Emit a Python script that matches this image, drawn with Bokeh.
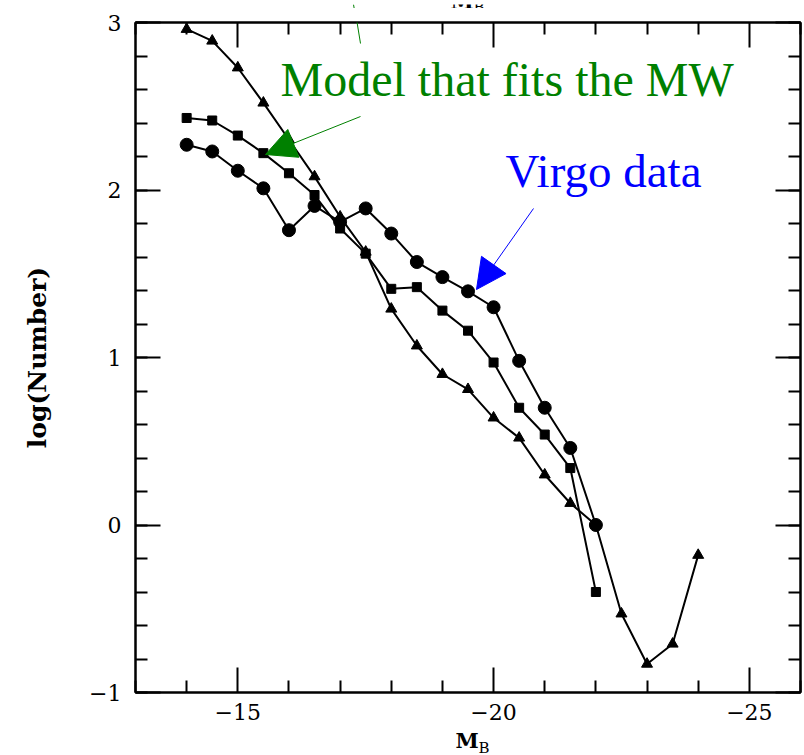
from bokeh.plotting import figure
from bokeh.layouts import column
from bokeh.models import (Range1d, LinearAxis, FixedTicker, CustomJSTickFormatter,
                          Label, Arrow, NormalHead)
from bokeh.embed import file_html
from bokeh.resources import INLINE

# ---------------- data ----------------
mb = [-14.0, -14.5, -15.0, -15.5, -16.0, -16.5, -17.0, -17.5, -18.0, -18.5,
      -19.0, -19.5, -20.0, -20.5, -21.0, -21.5, -22.0, -22.5, -23.0, -23.5, -24.0]

model_tri = [2.96, 2.89, 2.73, 2.52, 2.30, 2.08, 1.84, 1.63, 1.29, 1.07,
             0.90, 0.81, 0.64, 0.52, 0.30, 0.13, 0.00, -0.53, -0.83, -0.71, -0.18]

mb_sq = mb[:17]
model_sq = [2.43, 2.415, 2.325, 2.22, 2.10, 1.97, 1.77, 1.62, 1.41, 1.42,
            1.28, 1.16, 0.97, 0.70, 0.54, 0.34, -0.40]

mb_ci = mb[:17]
virgo = [2.27, 2.23, 2.115, 2.01, 1.76, 1.905, 1.81, 1.89, 1.74, 1.57,
         1.48, 1.395, 1.30, 0.98, 0.70, 0.46, 0.00]

x_major = [-15, -20, -25]
x_minor = [-13, -14, -16, -17, -18, -19, -21, -22, -23, -24, -26]
y_major = [-1, 0, 1, 2, 3]
y_minor = [round(-1 + 0.2 * i, 1) for i in range(21)]

# ---------------- geometry ----------------
W, H = 804, 755
FL, FR, FT, FB = 135, 800, 22, 692   # frame edges in canvas pixels
X0, X1, Y0, Y1 = -13, -26, -1, 3
TOP = 8                              # height of the top strip
BOT = 729                            # where the bottom strip starts

def dx(px):
    return X0 + (px - FL) * (X1 - X0) / (FR - FL)

def dy(py):
    return Y1 - (py - FT) * (Y1 - Y0) / (FB - FT)

GREEN = "#008000"
BLUE = "#0000ff"

def strip(h, top_px):
    s = figure(width=W, height=h, x_range=Range1d(X0, X1),
               y_range=Range1d(top_px + h, top_px),
               x_axis_type=None, y_axis_type=None,
               output_backend="svg", toolbar_location=None,
               min_border_left=FL, min_border_right=W - FR,
               min_border_top=0, min_border_bottom=0)
    s.grid.visible = False
    s.outline_line_color = None
    s.background_fill_color = "white"
    s.border_fill_color = "white"
    return s

# ---------------- top strip (cut-off label of the panel above) ----------------
top_s = strip(TOP, 0)
top_s.add_layout(Label(x=dx(450), y=-3, text="M", text_font="DejaVu Serif",
                       text_font_style="bold", text_font_size="21px",
                       text_baseline="alphabetic", text_color="black"))
top_s.add_layout(Label(x=dx(473), y=2, text="B", text_font="DejaVu Serif",
                       text_font_size="15px", text_baseline="alphabetic",
                       text_color="black"))
top_s.add_layout(Arrow(x_start=dx(353), y_start=0, x_end=dx(354.4), y_end=TOP,
                       line_color=GREEN, line_width=1, end=None))

# ---------------- main figure ----------------
p = figure(width=W, height=BOT - TOP, x_range=Range1d(X0, X1), y_range=Range1d(Y0, Y1),
           output_backend="svg", toolbar_location=None,
           min_border_left=FL, min_border_right=W - FR,
           min_border_top=FT - TOP, min_border_bottom=BOT - FB)
p.grid.visible = False
p.outline_line_color = "black"
p.outline_line_width = 2
p.background_fill_color = "white"
p.border_fill_color = "white"

minus_fmt = "return tick < 0 ? '\\u2212' + Math.abs(tick) : '' + tick;"

def style_axis(ax, ticks, minors, labels=True, size="22px"):
    ax.ticker = FixedTicker(ticks=ticks, minor_ticks=minors)
    ax.axis_line_width = 2
    ax.axis_line_color = "black"
    ax.major_tick_in = 25
    ax.major_tick_out = 0
    ax.minor_tick_in = 12
    ax.minor_tick_out = 0
    ax.major_tick_line_width = 2
    ax.minor_tick_line_width = 2
    ax.major_tick_line_color = "black"
    ax.minor_tick_line_color = "black"
    if labels:
        ax.formatter = CustomJSTickFormatter(code=minus_fmt)
        ax.major_label_text_font = "DejaVu Serif"
        ax.major_label_text_font_size = size
        ax.major_label_text_color = "black"
    else:
        ax.formatter = CustomJSTickFormatter(code="return '';")
        ax.major_label_standoff = 0
        ax.major_label_text_font_size = "0px"

style_axis(p.xaxis[0], x_major, x_minor)
p.xaxis[0].major_label_standoff = 11
style_axis(p.yaxis[0], y_major, y_minor)
p.yaxis[0].major_label_standoff = 14
p.yaxis[0].axis_label = "log(Number)"
p.yaxis[0].axis_label_text_font = "DejaVu Serif"
p.yaxis[0].axis_label_text_font_style = "bold"
p.yaxis[0].axis_label_text_font_size = "25px"
p.yaxis[0].axis_label_text_color = "black"
p.yaxis[0].axis_label_standoff = 34

top = LinearAxis()
style_axis(top, x_major, x_minor, labels=False)
p.add_layout(top, "above")
right = LinearAxis()
style_axis(right, y_major, y_minor, labels=False)
p.add_layout(right, "right")

# ---------------- series ----------------
p.line(mb, model_tri, line_color="black", line_width=2)
p.scatter(mb, model_tri, marker="triangle", size=11, fill_color="black", line_color="black")

p.line(mb_sq, model_sq, line_color="black", line_width=2)
p.scatter(mb_sq, model_sq, marker="square", size=9, fill_color="black", line_color="black")

p.line(mb_ci, virgo, line_color="black", line_width=2)
p.scatter(mb_ci, virgo, marker="circle", size=13, fill_color="black", line_color="black")

# ---------------- annotations ----------------
p.add_layout(Label(x=dx(280), y=dy(79), text="Model that fits the MW",
                   text_font="Liberation Serif", text_font_size="48px",
                   text_baseline="alphabetic", text_color=GREEN))
p.add_layout(Label(x=dx(505), y=dy(170), text="Virgo data",
                   text_font="Liberation Serif", text_font_size="47px",
                   text_baseline="alphabetic", text_color=BLUE))

p.add_layout(Arrow(x_start=dx(360), y_start=dy(116), x_end=dx(265), y_end=dy(154),
                   line_color=GREEN, line_width=1,
                   end=NormalHead(size=30, fill_color=GREEN, line_color=GREEN)))
p.add_layout(Arrow(x_start=dx(353), y_start=dy(0), x_end=dx(360), y_end=dy(43),
                   line_color=GREEN, line_width=1, end=None))
p.add_layout(Arrow(x_start=dx(533), y_start=dy(208), x_end=dx(476), y_end=dy(289),
                   line_color=BLUE, line_width=1,
                   end=NormalHead(size=30, fill_color=BLUE, line_color=BLUE)))

# ---------------- bottom strip (x-axis title M_B) ----------------
bot_s = strip(H - BOT, BOT)
bot_s.add_layout(Label(x=dx(455), y=740, text="M", text_font="DejaVu Serif",
                       text_font_style="bold", text_font_size="21px",
                       text_baseline="alphabetic", text_color="black"))
bot_s.add_layout(Label(x=dx(478), y=747, text="B", text_font="DejaVu Serif",
                       text_font_size="15px", text_baseline="alphabetic",
                       text_color="black"))

layout = column(top_s, p, bot_s, spacing=0)
open("out.html", "w").write(file_html(layout, INLINE))
